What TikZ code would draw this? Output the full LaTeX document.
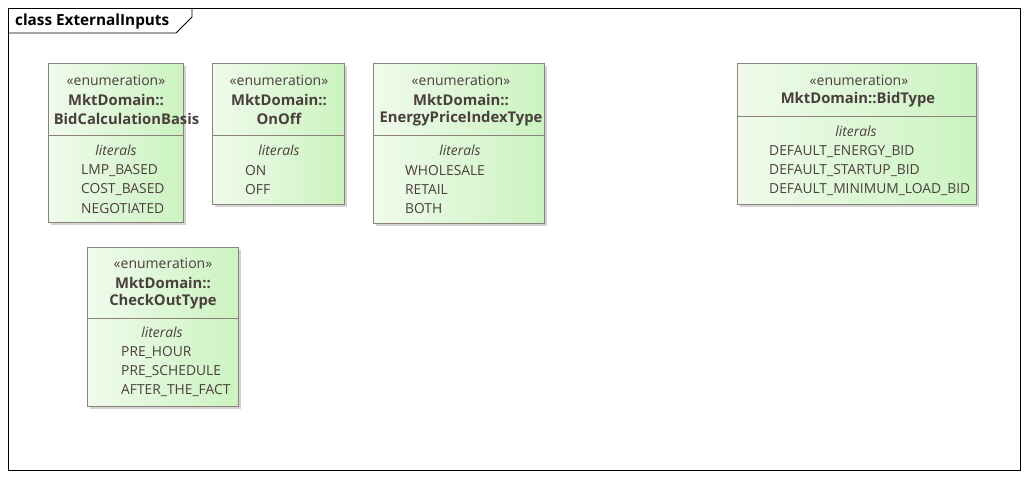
\documentclass[tikz,border=0pt]{standalone}
\usepackage{fontspec}
\setmainfont{Open Sans}
\usetikzlibrary{shadows}
\definecolor{boxline}{HTML}{8C8279}
\definecolor{txt}{HTML}{4A3E3E}
\definecolor{lgreen}{HTML}{F0FBEC}
\definecolor{rgreen}{HTML}{CBF3C0}
\tikzset{
  enumbox/.style={draw=boxline, line width=0.9pt, left color=lgreen, right color=rgreen,
    anchor=north west, inner sep=0pt,
    drop shadow={shadow xshift=3pt, shadow yshift=-3pt, opacity=0.35, fill=gray}},
  stereo/.style={font=\fontsize{14}{16}\selectfont, text=txt, inner sep=0pt},
  tname/.style={font=\fontsize{14.8}{17}\selectfont\bfseries, text=txt, inner sep=0pt},
  lithead/.style={font=\fontsize{13.8}{16}\selectfont\itshape, text=txt, inner sep=0pt},
  lit/.style={font=\fontsize{13.8}{16}\selectfont, text=txt, inner sep=0pt, anchor=west},
  divider/.style={draw=boxline, line width=0.9pt}
}
\begin{document}
\begin{tikzpicture}[x=1pt,y=-1pt]
\useasboundingbox (0,0) rectangle (1028,478);
% frame
\draw[line width=0.8pt] (8,8) rectangle (1020,470);
\draw[line width=0.8pt] (8,33) -- (176,33) -- (192,17) -- (192,8);
\node[font=\fontsize{15.3}{17}\selectfont\bfseries, anchor=west, inner sep=0pt] (title) at (15,21.5) {class ExternalInputs};

% boxes
\node[enumbox, minimum width=135pt, minimum height=159pt] (b1) at (48,63) {};
\draw[divider] (48,135) -- (183,135);
\node[enumbox, minimum width=132pt, minimum height=141pt] (b2) at (212,63) {};
\draw[divider] (212,135) -- (344,135);
\node[enumbox, minimum width=171pt, minimum height=160pt] (b3) at (373,63) {};
\draw[divider] (373,135) -- (544,135);
\node[enumbox, minimum width=239pt, minimum height=141pt] (b4) at (737,63) {};
\draw[divider] (737,116) -- (976,116);
\node[enumbox, minimum width=151pt, minimum height=159pt] (b5) at (87,247) {};
\draw[divider] (87,318) -- (238,318);

\begin{scope}[yshift=-1.5pt]
% Box 1
\node[stereo] (b1s) at (116,79) {«enumeration»};
\node[tname] (b1n1) at (116,98) {MktDomain::};
\node[tname] (b1n2) at (126.5,117) {BidCalculationBasis};
\node[lithead] (b1l) at (116,149) {literals};
\node[lit] (b1a) at (81,169) {LMP\_BASED};
\node[lit] (b1b) at (81,188) {COST\_BASED};
\node[lit] (b1c) at (81,207) {NEGOTIATED};
% Box 2
\node[stereo] (b2s) at (279,79) {«enumeration»};
\node[tname] (b2n1) at (279,98) {MktDomain::};
\node[tname] (b2n2) at (279,117) {OnOff};
\node[lithead] (b2l) at (279,149) {literals};
\node[lit] (b2a) at (245,169) {ON};
\node[lit] (b2b) at (245,188) {OFF};
% Box 3
\node[stereo] (b3s) at (461,79) {«enumeration»};
\node[tname] (b3n1) at (461,98) {MktDomain::};
\node[tname] (b3n2) at (461,117) {EnergyPriceIndexType};
\node[lithead] (b3l) at (460,149) {literals};
\node[lit] (b3a) at (405,169) {WHOLESALE};
\node[lit] (b3b) at (405,188) {RETAIL};
\node[lit] (b3c) at (405,207) {BOTH};
% Box 4
\node[stereo] (b4s) at (859,79) {«enumeration»};
\node[tname] (b4n) at (858,98) {MktDomain::BidType};
\node[lithead] (b4l) at (856,130) {literals};
\node[lit] (b4a) at (769,150) {DEFAULT\_ENERGY\_BID};
\node[lit] (b4b) at (769,169) {DEFAULT\_STARTUP\_BID};
\node[lit] (b4c) at (769,188) {DEFAULT\_MINIMUM\_LOAD\_BID};
% Box 5
\node[stereo] (b5s) at (163,262) {«enumeration»};
\node[tname] (b5n1) at (163,281) {MktDomain::};
\node[tname] (b5n2) at (163,300) {CheckOutType};
\node[lithead] (b5l) at (162,331) {literals};
\node[lit] (b5a) at (121,351) {PRE\_HOUR};
\node[lit] (b5b) at (121,370) {PRE\_SCHEDULE};
\node[lit] (b5c) at (121,389) {AFTER\_THE\_FACT};
\end{scope}
\end{tikzpicture}
\end{document}
